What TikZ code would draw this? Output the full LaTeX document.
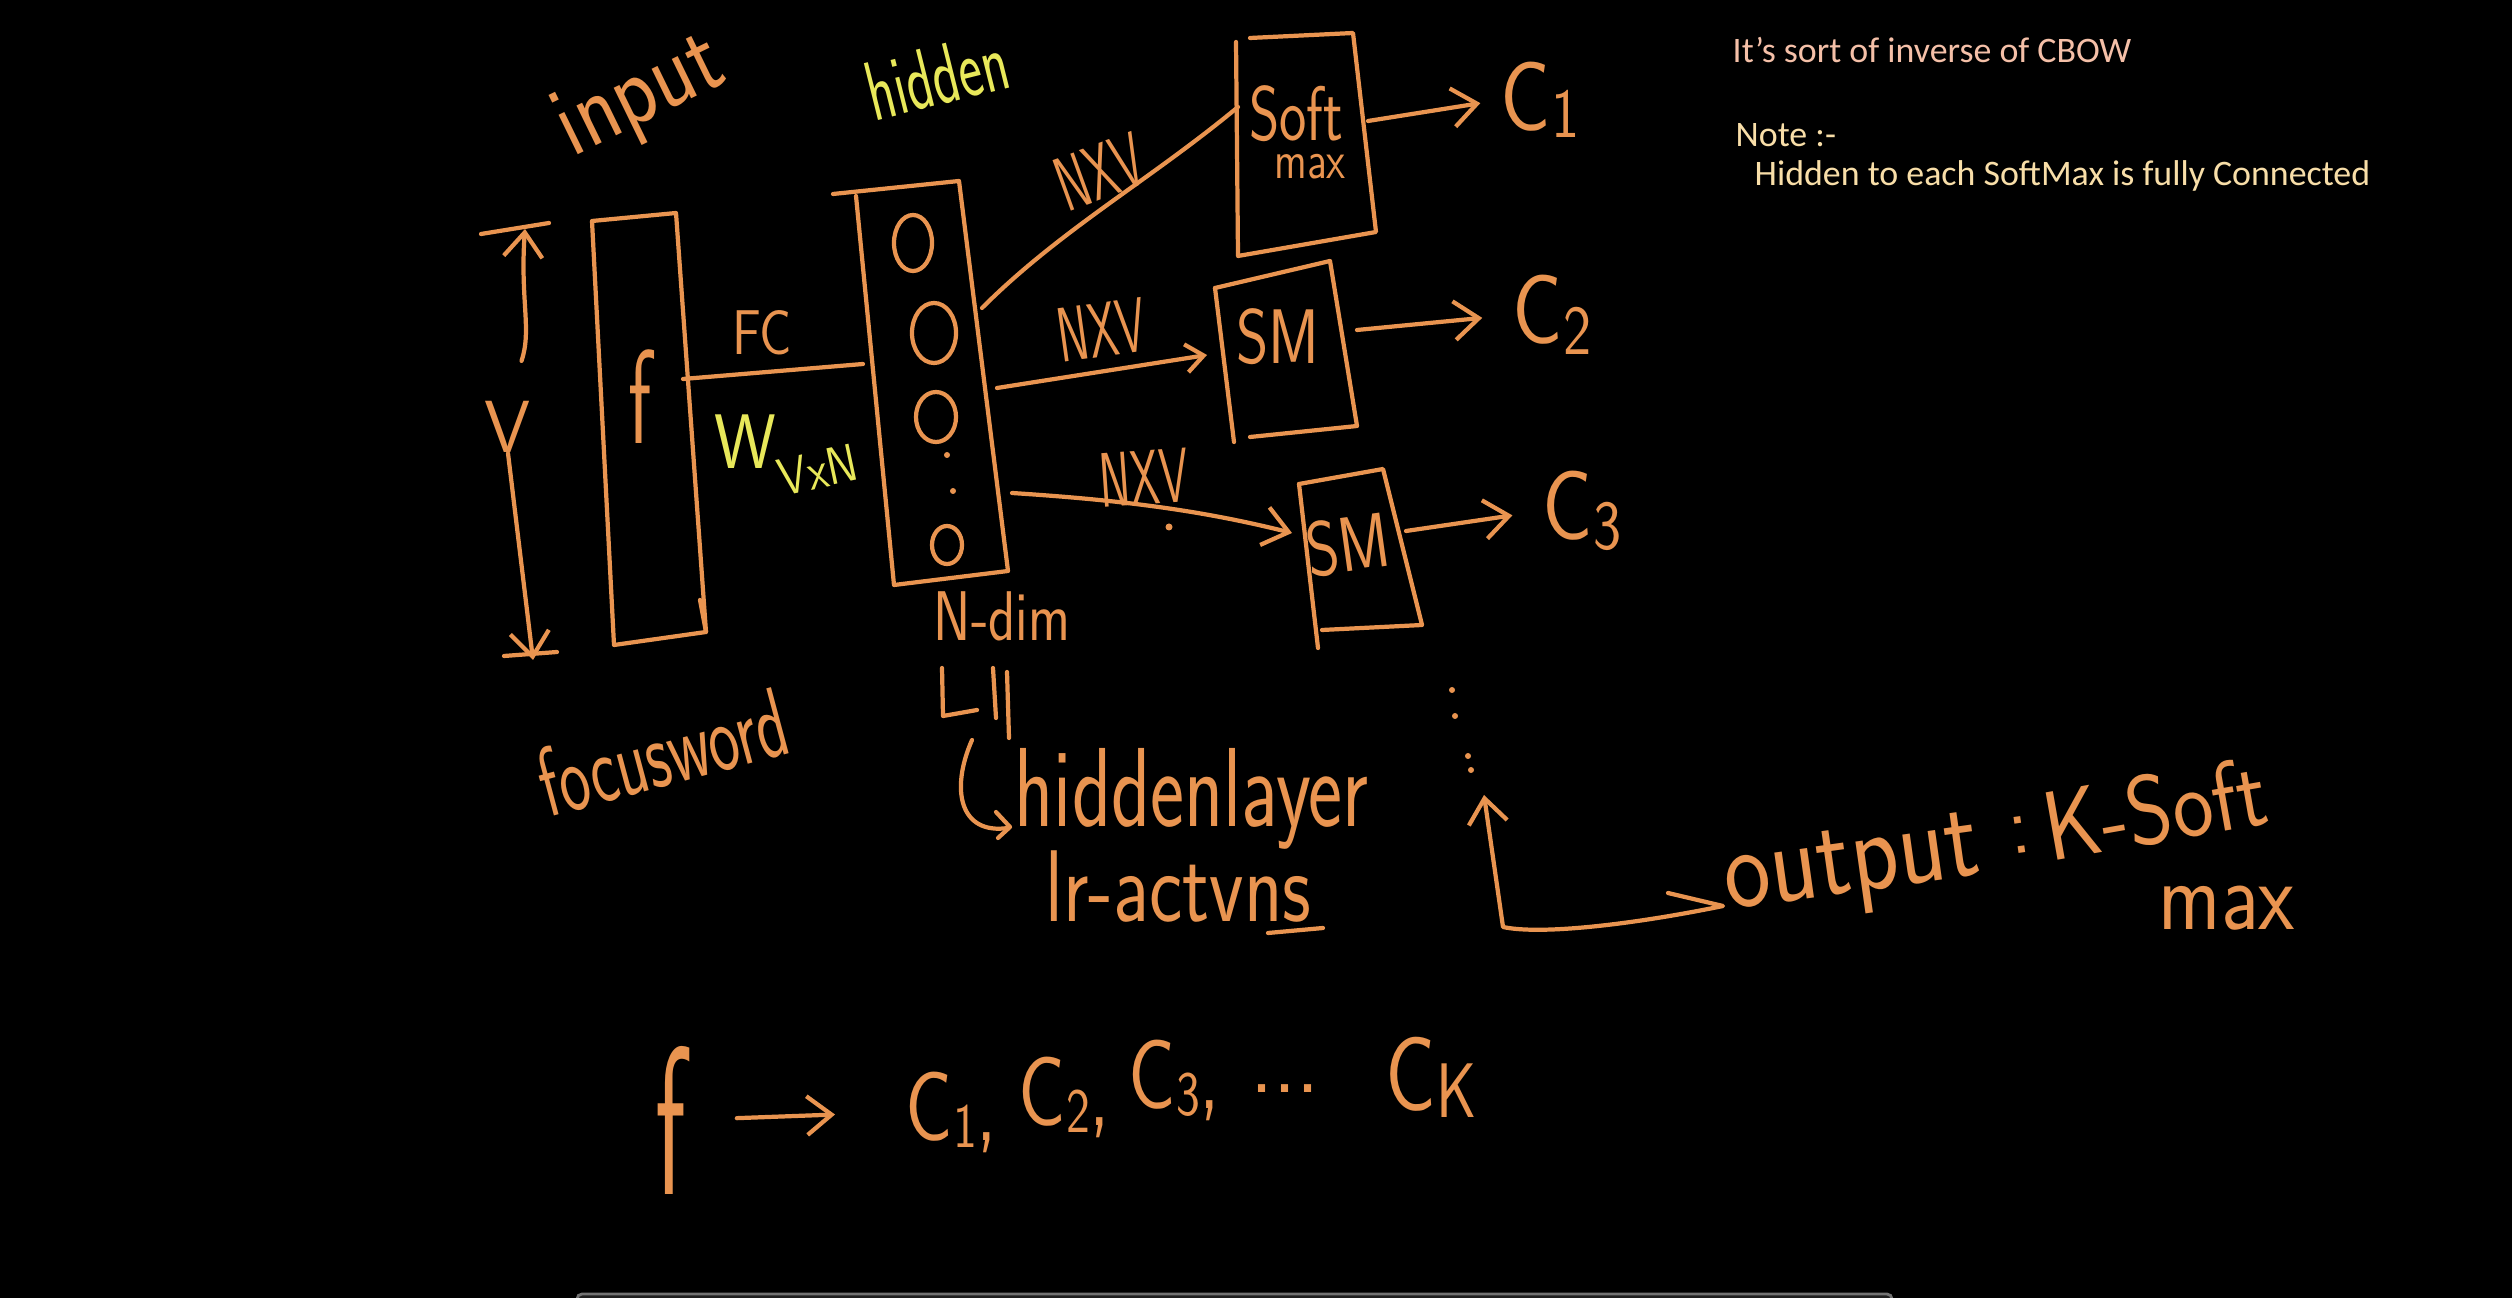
\documentclass[tikz,border=0pt]{standalone}
\usepackage{fontspec}
\usepackage{graphicx}
\usetikzlibrary{arrows.meta}
\newfontfamily\notefont{Carlito}
\definecolor{ink}{RGB}{233,148,80}
\definecolor{hl}{RGB}{232,232,90}
\definecolor{notepink}{RGB}{245,192,168}
\definecolor{notecream}{RGB}{248,222,168}
\newcommand\fsz[1]{\fontsize{#1}{#1}\selectfont}
\newcommand\nar[2]{\scalebox{#1}[1]{#2}}
\begin{document}
\begin{tikzpicture}[x=0.01cm,y=-0.01cm,
  pen/.style={draw=ink, line width=1.2pt, line cap=round, line join=round},
  hw/.style={text=ink, font=\sffamily, inner sep=0pt},
  hy/.style={text=hl, font=\sffamily, inner sep=0pt},
  tip/.style={-{Straight Barb[length=7pt,width=11pt]}},
  smalltip/.style={-{Straight Barb[length=5pt,width=8pt]}},
  note/.style={inner sep=0pt, anchor=west, font=\notefont\fsz{10.2}},
  dotm/.style={fill=ink, draw=none}
]
\fill[black] (0,0) rectangle (2512,1298);
\useasboundingbox (0,0) rectangle (2512,1298);
% scroll bar at bottom
\draw[black!55, fill=black!88, rounded corners=0.05cm, line width=0.8pt] (577,1294) rectangle (1892,1320);

% notes
\node[note, text=notepink] (n1) at (1732,50) {It’s sort of inverse of CBOW};
\node[note, text=notecream] (n2) at (1735,135) {Note :-};
\node[note, text=notecream] (n3) at (1754,176) {Hidden to each SoftMax is fully Connected};

% headings
\node[hw, rotate=26] (inp) at (641,98) {\fsz{29}\nar{0.85}{input}};
\node[hy, rotate=14] (hid) at (937,76) {\fsz{24}\nar{0.66}{hidden}};

% input box
\coordinate (ib1) at (592,221);
\coordinate (ib2) at (676,213);
\coordinate (ib3) at (706,632);
\coordinate (ib4) at (614,645);
\draw[pen] (ib1) -- (ib2) -- (ib3) -- (ib4) -- cycle;
\draw[pen] (700,600) -- (706,632);
\node[hw] (f) at (640,397) {\fsz{38}\nar{0.6}{f}};

% V dimension
\node[hw] (V) at (508,427) {\fsz{21}V};
\coordinate (vtop) at (525,229);
\coordinate (vbot) at (533,660);
\draw[pen, tip, shorten <=0.42cm] (V.north) .. controls (532,330) and (520,300) .. (vtop);
\draw[pen, tip] (V.south) -- (vbot);
\draw[pen] (481,234) -- (549,223);
\draw[pen] (504,656) -- (557,652);

\node[hw, rotate=15] (fw) at (662,752) {\fsz{28}\nar{0.66}{focusword}};

% hidden box
\coordinate (hb1) at (833,194);
\coordinate (hb2) at (959,181);
\coordinate (hb3) at (1008,571);
\coordinate (hb4) at (894,585);
\coordinate (hb5) at (856,196);
\draw[pen] (hb1) -- (hb2) -- (hb3) -- (hb4) -- (hb5);
\draw[pen] (913,243) ellipse [x radius=0.19cm, y radius=0.28cm];
\draw[pen] (934,333) ellipse [x radius=0.22cm, y radius=0.30cm];
\draw[pen] (936,417) ellipse [x radius=0.20cm, y radius=0.25cm];
\draw[pen] (947,545) ellipse [x radius=0.15cm, y radius=0.19cm];
\fill[dotm] (947,455) circle [radius=0.03cm];
\fill[dotm] (953,491) circle [radius=0.03cm];

% FC connection
\coordinate (inR) at (683,379);
\coordinate (hidL) at (863,364);
\draw[pen] (inR) -- (hidL);
\node[hw] (fc) at (762,333) {\fsz{18}\nar{0.85}{FC}};
\node[hy] (w) at (745,442) {\fsz{22}\nar{0.9}{W}};
\node[hy, rotate=12] (vxn) at (818,470) {\fsz{15}\nar{0.85}{VxN}};

\node[hw] (nd) at (1002,616) {\fsz{20}\nar{0.8}{N-dim}};
\draw[pen] (942,668) -- (943,716) -- (977,710);
\draw[pen] (993,668) -- (996,718);
\draw[pen] (1007,672) -- (1009,738);
\draw[pen] (972,740) .. controls (950,790) and (960,835) .. (1008,828);
\draw[pen] (996,812) -- (1010,827) -- (998,838);
\node[hw, anchor=base west] (hl) at (1014,827) {\fsz{32}\nar{0.72}{hiddenlayer}};
\node[hw, anchor=base west] (act) at (1045,922) {\fsz{29}\nar{0.78}{lr-actvns}};
\draw[pen] (1268,933) -- (1323,928);

% softmax boxes
\draw[pen] (1250,38) -- (1353,33) -- (1376,232) -- (1238,256) -- (1236,42);
\node[hw] (soft) at (1296,114) {\fsz{22}\nar{0.75}{Soft}};
\node[hw] (max1) at (1310,167) {\fsz{15}\nar{0.8}{max}};
\draw[pen] (1215,288) -- (1330,261) -- (1357,426) -- (1250,437);
\draw[pen] (1215,288) -- (1234,442);
\node[hw] (sm2) at (1278,337) {\fsz{22}\nar{0.8}{SM}};
\draw[pen] (1299,484) -- (1383,469) -- (1422,625) -- (1322,630);
\draw[pen] (1299,484) -- (1318,648);
\node[hw, rotate=8] (sm3) at (1348,545) {\fsz{22}\nar{0.8}{SM}};

% hidden to softmax
\coordinate (h1) at (982,308);
\coordinate (h2) at (997,388);
\coordinate (h3) at (1012,493);
\coordinate (s1L) at (1238,107);
\coordinate (s2L) at (1207,355);
\coordinate (s3L) at (1292,533);
\draw[pen] (h1) .. controls (1060,230) and (1150,180) .. (s1L);
\draw[pen, smalltip] (h2) -- (s2L);
\draw[pen, tip] (h3) .. controls (1120,500) and (1200,510) .. (s3L);
\node[hw, rotate=20] (l1) at (1100,172) {\fsz{22}\nar{0.6}{NXV}};
\node[hw, rotate=8] (l2) at (1102,330) {\fsz{22}\nar{0.6}{NXV}};
\node[hw, rotate=4] (l3) at (1144,478) {\fsz{22}\nar{0.6}{NXV}};
\fill[dotm] (1169,527) circle [radius=0.035cm];

% outputs
\node[hw] (c1) at (1540,100) {\fsz{28}\nar{0.85}{C\raisebox{-2pt}{\fsz{20}1}}};
\node[hw] (c2) at (1552,315) {\fsz{28}\nar{0.85}{C\raisebox{-3pt}{\fsz{20}2}}};
\node[hw] (c3) at (1582,511) {\fsz{28}\nar{0.85}{C\raisebox{-3pt}{\fsz{20}3}}};
\coordinate (s1R) at (1368,121);
\coordinate (s2R) at (1357,330);
\coordinate (s3R) at (1406,531);
\draw[pen, tip, shorten >=0.2cm] (s1R) -- (c1.west);
\draw[pen, tip, shorten >=0.3cm] (s2R) -- (c2.west);
\draw[pen, tip, shorten >=0.3cm] (s3R) -- (c3.west);

% vertical dots
\fill[dotm] (1452,690) circle [radius=0.03cm];
\fill[dotm] (1455,716) circle [radius=0.03cm];
\fill[dotm] (1468,756) circle [radius=0.03cm];
\fill[dotm] (1471,770) circle [radius=0.03cm];

% output label and arrow
\node[hw, anchor=base west, rotate=8] (out) at (1728,910) {\fsz{33}\nar{0.85}{output}};
\node[hw, rotate=8] (colon) at (2020,835) {\fsz{24}:};
\node[hw, anchor=base west, rotate=10] (ksoft) at (2050,862) {\fsz{28}\nar{0.88}{K-Soft}};
\node[hw, anchor=base west] (max2) at (2158,930) {\fsz{28}\nar{0.85}{max}};
\coordinate (oarr) at (1484,795);
\coordinate (oend) at (1668,893);
\draw[pen, tip] (oend) -- (1723,906) .. controls (1630,925) and (1540,935) .. (1503,927) -- (oarr);

% bottom formula
\node[hw] (bf) at (671,1120) {\fsz{60}\nar{0.5}{f}};
\node[hw, anchor=base west] (bc1) at (905,1140) {\fsz{28}\nar{0.8}{C\raisebox{-2pt}{\fsz{18}1},}};
\node[hw, anchor=base west] (bc2) at (1018,1125) {\fsz{28}\nar{0.8}{C\raisebox{-2pt}{\fsz{18}2},}};
\node[hw, anchor=base west] (bc3) at (1128,1108) {\fsz{28}\nar{0.8}{C\raisebox{-2pt}{\fsz{18}3},}};
\node[hw, anchor=base west] (bdots) at (1250,1092) {\fsz{28}\nar{0.9}{...}};
\node[hw, anchor=base west] (bck) at (1385,1110) {\fsz{30}\nar{0.8}{C\raisebox{-2pt}{\fsz{22}K}}};
\draw[pen, tip, shorten <=0.5cm, shorten >=0.7cm] (bf.east) -- (bc1.west);
\end{tikzpicture}
\end{document}
